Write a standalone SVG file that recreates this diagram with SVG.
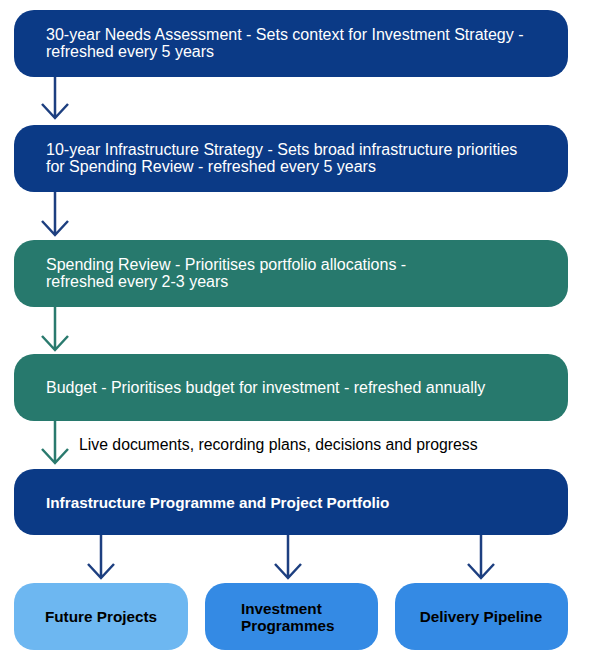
<svg xmlns="http://www.w3.org/2000/svg" width="589" height="669" viewBox="0 0 589 669">
<defs>
<style>
.dk{fill:#0b3a86}
.gr{fill:#27796d}
.lt{fill:#6db7f1}
.md{fill:#348ae4}
.t{font-family:"Liberation Sans",Arial,sans-serif;font-size:16px;fill:#ffffff}
.b{font-family:"Liberation Sans",Arial,sans-serif;font-size:15.3px;font-weight:bold}
.lbl{font-family:"Liberation Sans",Arial,sans-serif;font-size:15.8px;fill:#000000}
.ab{stroke:#1d3f80;stroke-width:2.5;fill:none}
.ag{stroke:#2a7a6e;stroke-width:2.5;fill:none}
</style>
</defs>
<rect width="589" height="669" fill="#ffffff"/>
<g id="connectors">
<path class="ab" d="M55 77V118M42 104L55 118L68 104"/>
<path class="ab" d="M55 192V235M42 221L55 235L68 221"/>
<path class="ag" d="M55 307V350M42 336L55 350L68 336"/>
<path class="ag" d="M55 421V463M42 449L55 463L68 449"/>
<path class="ab" d="M101 535V578M88 564L101 578L114 564"/>
<path class="ab" d="M288 535V578M275 564L288 578L301 564"/>
<path class="ab" d="M481 535V578M468 564L481 578L494 564"/>
<text class="lbl" x="79" y="450">Live documents, recording plans, decisions and progress</text>
</g>
<g id="needs">
<rect class="dk" x="14" y="10" width="554" height="67" rx="20"/>
<text class="t" x="46" y="40">30-year Needs Assessment - Sets context for Investment Strategy -</text>
<text class="t" x="46" y="57">refreshed every 5 years</text>
</g>
<g id="strategy">
<rect class="dk" x="14" y="125" width="554" height="67" rx="20"/>
<text class="t" x="46" y="155">10-year Infrastructure Strategy - Sets broad infrastructure priorities</text>
<text class="t" x="46" y="172">for Spending Review - refreshed every 5 years</text>
</g>
<g id="spending">
<rect class="gr" x="14" y="240" width="554" height="67" rx="20"/>
<text class="t" x="46" y="270">Spending Review - Prioritises portfolio allocations -</text>
<text class="t" x="46" y="287">refreshed every 2-3 years</text>
</g>
<g id="budget">
<rect class="gr" x="14" y="354" width="554" height="67" rx="20"/>
<text class="t" x="46" y="393">Budget - Prioritises budget for investment - refreshed annually</text>
</g>
<g id="portfolio">
<rect class="dk" x="14" y="469" width="554" height="66" rx="20"/>
<text class="b" x="46" y="508" fill="#ffffff">Infrastructure Programme and Project Portfolio</text>
</g>
<g id="future">
<rect class="lt" x="14" y="583" width="174" height="67" rx="20"/>
<text class="b" x="101" y="622" text-anchor="middle" fill="#000000">Future Projects</text>
</g>
<g id="investment">
<rect class="md" x="205" y="583" width="173" height="67" rx="20"/>
<text class="b" x="241" y="614" fill="#000000">Investment</text>
<text class="b" x="241" y="631" fill="#000000">Programmes</text>
</g>
<g id="delivery">
<rect class="md" x="395" y="583" width="173" height="67" rx="20"/>
<text class="b" x="481" y="622" text-anchor="middle" fill="#000000">Delivery Pipeline</text>
</g>
</svg>
